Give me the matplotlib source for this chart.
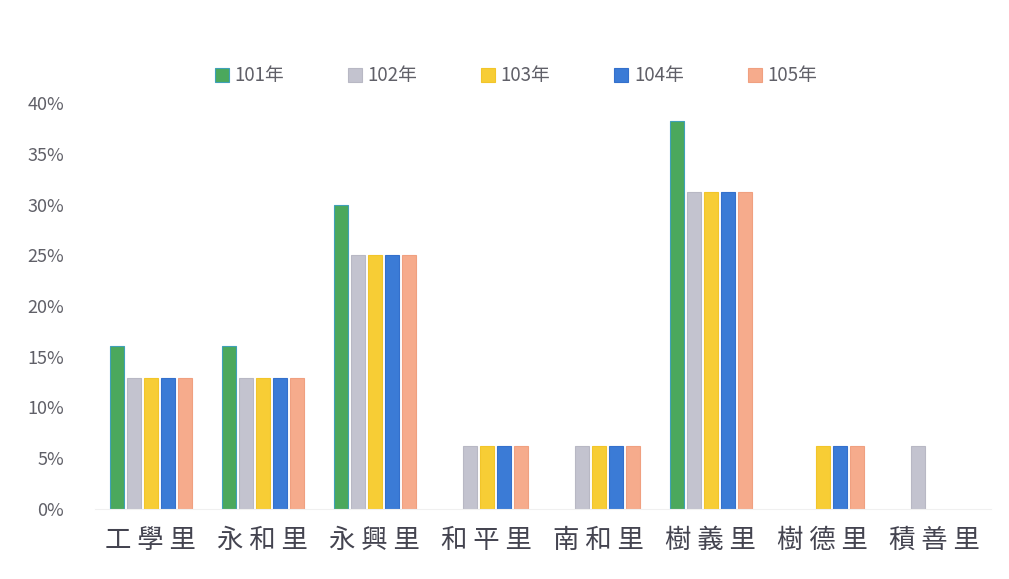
import numpy as np
import matplotlib.pyplot as plt
from matplotlib.ticker import PercentFormatter

plt.rcParams['font.family'] = ['Noto Sans CJK TC', 'DejaVu Sans']

villages = ['工學里', '永和里', '永興里', '和平里', '南和里', '樹義里', '樹德里', '積善里']
years = ['101年', '102年', '103年', '104年', '105年']

# share per village (%)
y101 = [16.1, 16.1, 30.0, 0, 0, 38.2, 0, 0]
y102 = [12.9, 12.9, 25.0, 6.2, 6.2, 31.2, 0, 6.2]
y103 = [12.9, 12.9, 25.0, 6.2, 6.2, 31.2, 6.2, 0]
y104 = [12.9, 12.9, 25.0, 6.2, 6.2, 31.2, 6.2, 0]
y105 = [12.9, 12.9, 25.0, 6.2, 6.2, 31.2, 6.2, 0]
series = [y101, y102, y103, y104, y105]

colors = ['#4ba85c', '#c3c3cf', '#f7cd35', '#3b7bd6', '#f6ab8c']
edges = ['#3fa0b8', '#b8b8c4', '#f2c52a', '#3470cc', '#f0a080']

fig = plt.figure(figsize=(10.09, 5.79), dpi=100)
ax = fig.add_axes([0.094, 0.121, 0.888, 0.701])

x = np.arange(len(villages))
w = 0.125
step = 0.152
for i, (vals, lab) in enumerate(zip(series, years)):
    v = np.array(vals, dtype=float)
    v[v == 0] = np.nan  # empty slots: draw nothing
    ax.bar(x + (i - 2) * step, v, width=w, color=colors[i],
           edgecolor=edges[i], linewidth=0.8, label=lab)

ax.set_xlim(-0.5, len(villages) - 0.5)
ax.set_ylim(0, 40)
ax.set_yticks(np.arange(0, 41, 5))
ax.yaxis.set_major_formatter(PercentFormatter(decimals=0))
ax.set_xticks(x)
ax.set_xticklabels([' '.join(v) for v in villages], fontsize=19, color='#444450')
ax.tick_params(axis='x', length=0, pad=13)
ax.tick_params(axis='y', length=0, pad=22, labelsize=13, labelcolor='#606068')
for s in ['top', 'right', 'left']:
    ax.spines[s].set_visible(False)
ax.spines['bottom'].set_color('#f0f0f0')

leg = ax.legend(loc='lower center', bbox_to_anchor=(0.47, 1.0), ncol=5, frameon=False,
                fontsize=13.5, handlelength=0.75, handleheight=0.75, columnspacing=3.4,
                handletextpad=0.3)
for t in leg.get_texts():
    t.set_color('#606068')

fig.savefig('out.png', dpi=100)
